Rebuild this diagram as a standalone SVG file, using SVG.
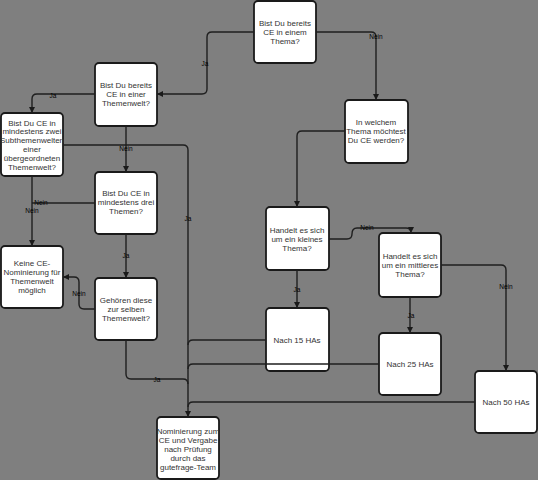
<svg xmlns="http://www.w3.org/2000/svg" width="538" height="480" viewBox="0 0 538 480">
<defs>
<marker id="arr" viewBox="0 0 10 10" refX="10" refY="5" markerWidth="6" markerHeight="6" markerUnits="userSpaceOnUse" orient="auto">
<path d="M0,0 L10,5 L0,10 Z" fill="#1a1a1a"/>
</marker>
<style>
.box{fill:#ffffff;stroke:#1a1a1a;stroke-width:1.8}
.t{font-family:"Liberation Sans",Arial,sans-serif;font-size:8px;fill:#333333;text-anchor:middle}
.c{fill:none;stroke:#1f1f1f;stroke-width:1.4}
.ca{fill:none;stroke:#1f1f1f;stroke-width:1.4;marker-end:url(#arr)}
.l{font-family:"Liberation Sans",Arial,sans-serif;font-size:6.5px;fill:#000;text-anchor:middle}
</style>
</defs>
<rect x="0" y="0" width="538" height="480" fill="#7f7f7f"/>

<g id="n1">
<rect class="box" x="254" y="1" width="62" height="62" rx="4"/>
<text class="t" x="285" y="26">Bist Du bereits</text>
<text class="t" x="285" y="35">CE in einem</text>
<text class="t" x="285" y="44">Thema?</text>
</g>
<g id="n2">
<rect class="box" x="95" y="63" width="62" height="63" rx="4"/>
<text class="t" x="126" y="88">Bist Du bereits</text>
<text class="t" x="126" y="97">CE in einer</text>
<text class="t" x="126" y="106">Themenwelt?</text>
</g>
<g id="n3">
<rect class="box" x="1" y="113" width="62" height="63" rx="4"/>
<text class="t" x="32" y="125.5">Bist Du CE in</text>
<text class="t" x="32" y="134.3">mindestens zwei</text>
<text class="t" x="32" y="143.1">Subthemenwelten</text>
<text class="t" x="32" y="151.9">einer</text>
<text class="t" x="32" y="160.7">übergeordneten</text>
<text class="t" x="32" y="169.5">Themenwelt?</text>
</g>
<g id="n4">
<rect class="box" x="95" y="172" width="62" height="62" rx="4"/>
<text class="t" x="126" y="196">Bist Du CE in</text>
<text class="t" x="126" y="205">mindestens drei</text>
<text class="t" x="126" y="214">Themen?</text>
</g>
<g id="n5">
<rect class="box" x="1" y="246" width="62" height="62" rx="4"/>
<text class="t" x="32" y="266">Keine CE-</text>
<text class="t" x="32" y="275">Nominierung für</text>
<text class="t" x="32" y="284">Themenwelt</text>
<text class="t" x="32" y="293">möglich</text>
</g>
<g id="n6">
<rect class="box" x="95" y="278" width="62" height="62" rx="4"/>
<text class="t" x="126" y="303">Gehören diese</text>
<text class="t" x="126" y="312">zur selben</text>
<text class="t" x="126" y="321">Themenwelt?</text>
</g>
<g id="n7">
<rect class="box" x="157" y="417" width="62" height="62" rx="4"/>
<text class="t" x="188" y="434">Nominierung zum</text>
<text class="t" x="188" y="443">CE und Vergabe</text>
<text class="t" x="188" y="452">nach Prüfung</text>
<text class="t" x="188" y="461">durch das</text>
<text class="t" x="188" y="470">gutefrage-Team</text>
</g>
<g id="n8">
<rect class="box" x="345" y="100" width="63" height="63" rx="4"/>
<text class="t" x="376" y="125">In welchem</text>
<text class="t" x="376" y="134">Thema möchtest</text>
<text class="t" x="376" y="143">Du CE werden?</text>
</g>
<g id="n9">
<rect class="box" x="266" y="207" width="63" height="63" rx="4"/>
<text class="t" x="297" y="233">Handelt es sich</text>
<text class="t" x="297" y="242">um ein kleines</text>
<text class="t" x="297" y="251">Thema?</text>
</g>
<g id="n10">
<rect class="box" x="379" y="233" width="62" height="64" rx="4"/>
<text class="t" x="410" y="259">Handelt es sich</text>
<text class="t" x="410" y="268">um ein mittleres</text>
<text class="t" x="410" y="277">Thema?</text>
</g>
<g id="n11">
<rect class="box" x="266" y="308" width="63" height="63" rx="4"/>
<text class="t" x="297" y="343">Nach 15 HAs</text>
</g>
<g id="n12">
<rect class="box" x="379" y="333" width="62" height="62" rx="4"/>
<text class="t" x="410" y="367">Nach 25 HAs</text>
</g>
<g id="n13">
<rect class="box" x="475" y="371" width="62" height="62" rx="4"/>
<text class="t" x="506" y="405">Nach 50 HAs</text>
</g>

<g id="connectors">
<path class="ca" d="M254,32 H212 Q207,32 207,37 V89 Q207,94 202,94 H157"/>
<path class="ca" d="M316,32 H371 Q376,32 376,37 V100"/>
<path class="ca" d="M95,94 H37 Q32,94 32,99 V113"/>
<path class="ca" d="M126,126 V172"/>
<path class="ca" d="M63,145 H183 Q188,145 188,150 V417"/>
<path class="ca" d="M32,176 V246"/>
<path class="c" d="M95,203 H32"/>
<path class="ca" d="M126,234 V278"/>
<path class="ca" d="M95,309 H84 Q79,309 79,304 V282 Q79,277 74,277 H63"/>
<path class="c" d="M126,340 V374 Q126,379 131,379 H183 Q188,379 188,384"/>
<path class="ca" d="M345,131 H302 Q297,131 297,136 V207"/>
<path class="ca" d="M329,239 H347 Q352,239 352,234 Q352,228 357,228 H406 Q411,228 411,233"/>
<path class="ca" d="M297,270 V308"/>
<path class="ca" d="M410,297 V333"/>
<path class="ca" d="M441,265 H501 Q506,265 506,270 V371"/>
<path class="c" d="M266,340 H193 Q188,340 188,345"/>
<path class="c" d="M379,364 H193 Q188,364 188,369"/>
<path class="c" d="M475,402 H193 Q188,402 188,407"/>
<text class="l" x="205" y="66">Ja</text>
<text class="l" x="376" y="39">Nein</text>
<text class="l" x="53" y="98">Ja</text>
<text class="l" x="126" y="151">Nein</text>
<text class="l" x="188" y="221">Ja</text>
<text class="l" x="32" y="213">Nein</text>
<text class="l" x="41" y="205">Nein</text>
<text class="l" x="126" y="258">Ja</text>
<text class="l" x="79" y="296">Nein</text>
<text class="l" x="157" y="382">Ja</text>
<text class="l" x="367" y="230">Nein</text>
<text class="l" x="297" y="292">Ja</text>
<text class="l" x="411" y="318">Ja</text>
<text class="l" x="506" y="289">Nein</text>
</g>
</svg>
